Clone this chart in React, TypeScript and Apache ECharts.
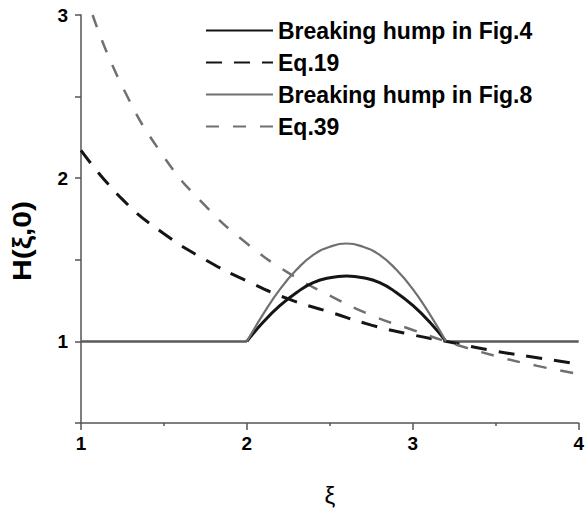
import React, { useEffect, useRef } from "react";
import * as echarts from "echarts";

// Breaking hump (Fig.4) and (Fig.8): x from 2.0 to 3.2 step 0.1
const humpX = [2.0, 2.1, 2.2, 2.3, 2.4, 2.5, 2.6, 2.7, 2.8, 2.9, 3.0, 3.1, 3.2];
const humpFig4 = [1.0, 1.12, 1.22, 1.3, 1.36, 1.39, 1.4, 1.39, 1.36, 1.3, 1.22, 1.12, 1.0];
const humpFig8 = [1.0, 1.17, 1.32, 1.44, 1.53, 1.58, 1.6, 1.58, 1.53, 1.44, 1.32, 1.17, 1.0];
// flat part H = 1
const flatLeftX = [1, 2];
const flatRightX = [3.2, 4];
const flatH = [1, 1];
// Eq.19
const eq19X = [1.0, 1.25, 1.5, 1.75, 2.0, 2.25, 2.5, 2.75, 3.0, 3.2, 3.5, 3.75, 4.0];
const eq19H = [2.17, 1.87, 1.66, 1.5, 1.37, 1.26, 1.18, 1.1, 1.04, 1.0, 0.94, 0.9, 0.86];
// Eq.39
const eq39X = [1.07, 1.25, 1.5, 1.75, 2.0, 2.25, 2.5, 2.75, 3.0, 3.2, 3.5, 3.75, 4.0];
const eq39H = [3.0, 2.56, 2.13, 1.83, 1.6, 1.42, 1.28, 1.16, 1.07, 1.0, 0.91, 0.85, 0.8];

const xTicks = [1, 2, 3, 4];
const yTicks = [1, 2, 3];

const names = ["Breaking hump in Fig.4", "Eq.19", "Breaking hump in Fig.8", "Eq.39"];

const zip = (xs: number[], ys: number[]) => xs.map((x, i) => [x, ys[i]]);

const BLACK = "#151515";
const GRAY = "#707070";
const FONT = "Liberation Sans, Arial, sans-serif";

export default function App() {
  const ref = useRef<HTMLDivElement>(null);
  useEffect(() => {
    if (!ref.current) return;
    const chart = echarts.init(ref.current, undefined, { renderer: "svg" });
    chart.setOption({
      animation: false,
      backgroundColor: "#fff",
      grid: { left: 81, right: 5, top: 15, bottom: 89, containLabel: false },
      legend: {
        data: names,
        orient: "vertical",
        left: 200,
        top: 14,
        itemWidth: 67,
        itemHeight: 14,
        itemGap: 9,
        itemStyle: { opacity: 0 },
        textStyle: { fontFamily: FONT, fontWeight: "bold", fontSize: 23, color: "#000" },
      },
      xAxis: {
        type: "value",
        min: 1,
        max: 4,
        interval: 1,
        name: "ξ",
        nameLocation: "middle",
        nameGap: 60,
        nameTextStyle: { fontFamily: FONT, fontSize: 24, color: "#000" },
        axisLine: { lineStyle: { color: "#555", width: 1.5 } },
        axisTick: { show: true, length: 7, lineStyle: { color: "#555", width: 1.5 } },
        minorTick: { show: true, splitNumber: 2, length: 3, lineStyle: { color: "#555", width: 1.5 } },
        splitLine: { show: false },
        axisLabel: {
          margin: 11,
          fontFamily: FONT,
          fontWeight: "bold",
          fontSize: 19,
          color: "#000",
          formatter: (v: number) => (xTicks.includes(v) ? String(v) : ""),
        },
      },
      yAxis: {
        type: "value",
        min: 0.5,
        max: 3,
        interval: 0.5,
        axisLine: { show: true, lineStyle: { color: "#555", width: 1.5 } },
        axisTick: { show: true, length: 6, lineStyle: { color: "#555", width: 1.5 } },
        splitLine: { show: false },
        axisLabel: {
          margin: 13,
          fontFamily: FONT,
          fontWeight: "bold",
          fontSize: 19,
          color: "#000",
          formatter: (v: number) => (yTicks.includes(v) ? String(v) : ""),
        },
      },
      graphic: [
        {
          type: "text",
          x: 22,
          y: 241,
          rotation: Math.PI / 2,
          scaleX: 1.2,
          style: {
            text: "H(ξ,0)",
            fontFamily: FONT,
            fontWeight: "bold",
            fontSize: 25,
            fill: "#000",
            align: "center",
            verticalAlign: "middle",
          },
        },
      ],
      series: [
        {
          name: names[0],
          type: "line",
          data: zip(humpX, humpFig4),
          smooth: true,
          symbol: "none",
          lineStyle: { color: BLACK, width: 3 },
          itemStyle: { color: BLACK },
          z: 4,
        },
        {
          name: names[1],
          type: "line",
          data: zip(eq19X, eq19H),
          smooth: true,
          symbol: "none",
          lineStyle: { color: BLACK, width: 3, type: [16, 12] },
          itemStyle: { color: BLACK },
          z: 3,
        },
        {
          name: names[2],
          type: "line",
          data: zip(humpX, humpFig8),
          smooth: true,
          symbol: "none",
          lineStyle: { color: GRAY, width: 2.2 },
          itemStyle: { color: GRAY },
          z: 4,
        },
        {
          name: names[3],
          type: "line",
          data: zip(eq39X, eq39H),
          smooth: true,
          symbol: "none",
          lineStyle: { color: GRAY, width: 2.5, type: [13, 14] },
          itemStyle: { color: GRAY },
          z: 3,
        },
        {
          name: "flatL",
          type: "line",
          data: zip(flatLeftX, flatH),
          symbol: "none",
          lineStyle: { color: "#5a5a5a", width: 2.5 },
          z: 2,
        },
        {
          name: "flatR",
          type: "line",
          data: zip(flatRightX, flatH),
          symbol: "none",
          lineStyle: { color: "#5a5a5a", width: 2.5 },
          z: 2,
        },
      ],
    });
    return () => chart.dispose();
  }, []);
  return <div ref={ref} style={{ width: 587, height: 512, position: "absolute", left: 0, top: 0 }} />;
}
